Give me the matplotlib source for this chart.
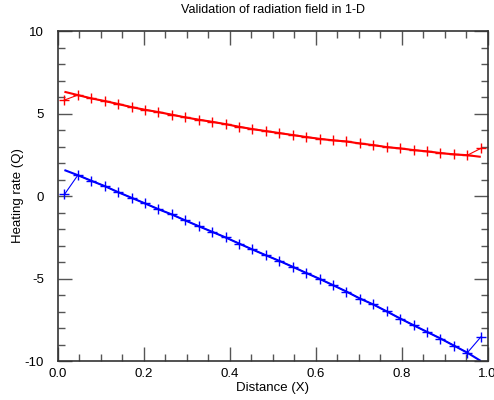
import numpy as np
import matplotlib
matplotlib.use("Agg")
import matplotlib.pyplot as plt
from matplotlib.ticker import MultipleLocator

plt.rcParams['font.family'] = ['Liberation Sans', 'DejaVu Sans']

# grid positions (cell centres)
x = np.linspace(0.0156, 0.9844, 32)

# numerical solution (markers)
q_red = [5.82, 6.12, 5.92, 5.76, 5.58, 5.39, 5.23, 5.09, 4.93, 4.77, 4.63,
         4.50, 4.36, 4.20, 4.06, 3.94, 3.82, 3.70, 3.58, 3.47, 3.38, 3.31,
         3.19, 3.09, 2.97, 2.89, 2.79, 2.71, 2.61, 2.53, 2.48, 2.89]
q_blue = [0.10, 1.27, 0.93, 0.61, 0.24, -0.10, -0.44, -0.79, -1.11, -1.47, -1.82,
          -2.16, -2.50, -2.87, -3.23, -3.58, -3.92, -4.28, -4.65, -5.01, -5.39, -5.78,
          -6.20, -6.56, -6.98, -7.41, -7.82, -8.22, -8.62, -9.05, -9.48, -8.53]

# reference (analytic) curve: same interior values, boundary values differ
ref_red = [6.32] + q_red[1:-1] + [2.38]
ref_blue = [1.58] + q_blue[1:-1] + [-9.98]

fig = plt.figure(figsize=(4.94, 4.0), dpi=100)
ax = fig.add_axes([57.7/494, 1 - 361.3/400, 429.8/494, 330.3/400])

ax.plot(x, ref_red, color='#ff0000', lw=1.5, solid_capstyle='butt')
ax.plot(x, q_red, color='#ff0000', lw=0.8, marker='+', ms=6.5, mew=1.0)
ax.plot(x, ref_blue, color='#0000ff', lw=1.5, solid_capstyle='butt')
ax.plot(x, q_blue, color='#0000ff', lw=0.8, marker='+', ms=6.5, mew=1.0)

ax.set_xlim(0, 1)
ax.set_ylim(-10, 10)
ax.xaxis.set_major_locator(MultipleLocator(0.2))
ax.xaxis.set_minor_locator(MultipleLocator(0.05))
ax.yaxis.set_major_locator(MultipleLocator(5))
ax.yaxis.set_minor_locator(MultipleLocator(1))
ax.xaxis.set_major_formatter(plt.FuncFormatter(lambda v, p: f"{v:.1f}"))
ax.yaxis.set_major_formatter(plt.FuncFormatter(lambda v, p: f"{v:.0f}"))

ax.tick_params(which='both', direction='in', top=True, right=True,
               color='#555555', labelsize=9.5, width=1.0)
ax.tick_params(which='major', length=10, pad=5)
ax.tick_params(which='minor', length=5)
ax.tick_params(axis='y', pad=10)
for s in ax.spines.values():
    s.set_linewidth(1.2)
    s.set_color('#333333')

ax.set_xlabel('Distance (X)', fontsize=9.5, labelpad=1)
fig.text(18/494, 1 - 196/400, 'Heating rate (Q)', fontsize=9.5,
         rotation=90, ha='center', va='center')
ax.set_title('Validation of radiation field in 1-D', fontsize=9, pad=13)

fig.savefig('out.png', dpi=100)
